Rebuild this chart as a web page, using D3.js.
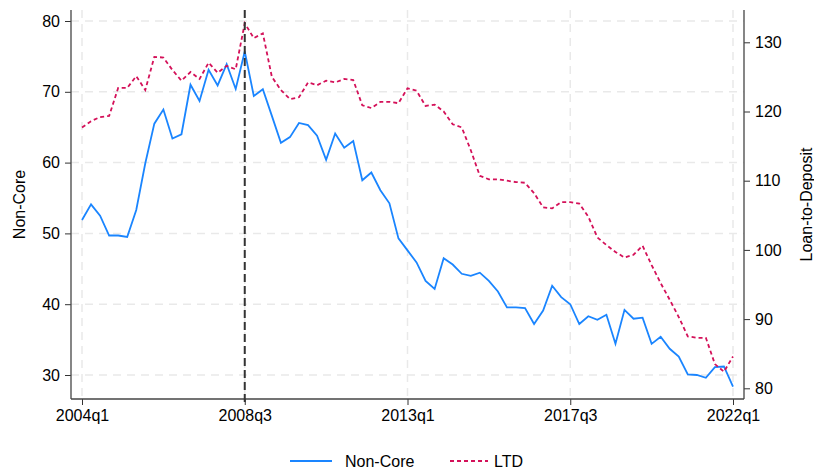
<!DOCTYPE html>
<html>
<head>
<meta charset="utf-8">
<script src="https://cdn.jsdelivr.net/npm/d3@7"></script>
<style>
  body { margin: 0; background: #fff; }
  svg { font-family: "Liberation Sans", Arial, sans-serif; }
</style>
</head>
<body>
<svg width="814" height="470"></svg>
<script>
// quarters from 2004q1 (index 0) to 2022q1 (index 72)
const startYear = 2004;
const tickQuarters = [0, 18, 36, 54, 72];
const leftTicks = [30, 40, 50, 60, 70, 80];
const rightTicks = [80, 90, 100, 110, 120, 130];
const eventQuarter = 18; // 2008q3

const nonCore = [
  51.9, 54.1, 52.5, 49.7, 49.7, 49.5, 53.3, 59.9, 65.5, 67.5,
  63.4, 64.0, 71.0, 68.7, 73.1, 70.9, 73.9, 70.4, 75.7, 69.4,
  70.35, 66.6, 62.8, 63.6, 65.6, 65.3, 63.8, 60.4, 64.1, 62.1,
  63.05, 57.5, 58.6, 56.1, 54.25, 49.3, 47.6, 45.9, 43.3, 42.15,
  46.5, 45.6, 44.3, 44.0, 44.45, 43.3, 41.8, 39.55, 39.55, 39.45,
  37.2, 39.1, 42.6, 41.0, 40.0, 37.2, 38.3, 37.8, 38.5, 34.4,
  39.2, 37.95, 38.1, 34.4, 35.4, 33.7, 32.6, 30.1, 30.0, 29.6,
  31.1, 31.2, 28.35
];

const ltd = [
  117.7, 118.6, 119.2, 119.35, 123.4, 123.4, 125.1, 123.1, 127.9, 127.8,
  126.0, 124.45, 125.7, 124.7, 127.05, 125.6, 126.6, 126.1, 132.75, 130.6,
  131.3, 125.0, 123.1, 121.8, 122.05, 124.2, 123.8, 124.45, 124.2, 124.7,
  124.55, 120.9, 120.5, 121.4, 121.4, 121.2, 123.35, 123.0, 120.8, 121.0,
  120.0, 118.15, 117.7, 114.4, 110.7, 110.2, 110.2, 110.0, 109.8, 109.7,
  108.2, 106.15, 106.0, 106.9, 106.9, 106.7, 104.8, 101.8, 100.7, 99.7,
  98.9, 99.3, 100.6, 97.8, 95.2, 92.8, 90.3, 87.5, 87.3, 87.3,
  83.5, 82.4, 84.6
];

const quarterLabel = q => `${startYear + Math.floor(q / 4)}q${(q % 4) + 1}`;

const svg = d3.select("svg");
const plot = { left: 71, right: 744, top: 10, bottom: 399 };
const blue = "#1a85ff", red = "#d41159", grid = "#e9e9e9";
const fontSize = "16px";

const x = d3.scaleLinear().domain([0, 72]).range([82, 733]);
const yL = d3.scaleLinear().domain([30, 80]).range([375, 21]);
const yR = d3.scaleLinear().domain([80, 130]).range([388.3, 42.3]);

// gridlines
svg.append("g")
  .selectAll("line")
  .data(leftTicks)
  .join("line")
  .attr("x1", plot.left).attr("x2", plot.right)
  .attr("y1", yL).attr("y2", yL)
  .attr("stroke", grid).attr("stroke-width", 1.5)
  .attr("stroke-dasharray", "8,6");

svg.append("g")
  .selectAll("line")
  .data(tickQuarters)
  .join("line")
  .attr("x1", x).attr("x2", x)
  .attr("y1", plot.top).attr("y2", plot.bottom)
  .attr("stroke", grid).attr("stroke-width", 1.5)
  .attr("stroke-dasharray", "8,6");

// axes
const axisStyle = g => {
  g.select(".domain").remove();
  g.selectAll(".tick line").attr("stroke", "#333").attr("stroke-width", 1);
  g.selectAll(".tick text").attr("fill", "#000").style("font-size", fontSize)
    .style("font-family", "'Liberation Sans', Arial, sans-serif");
};

svg.append("g")
  .attr("transform", `translate(${plot.left},0)`)
  .call(d3.axisLeft(yL).tickValues(leftTicks).tickSize(6).tickPadding(5))
  .call(axisStyle);

svg.append("g")
  .attr("transform", `translate(${plot.right},0)`)
  .call(d3.axisRight(yR).tickValues(rightTicks).tickSize(6).tickPadding(5))
  .call(axisStyle);

svg.append("g")
  .attr("transform", `translate(0,${plot.bottom})`)
  .call(d3.axisBottom(x).tickValues(tickQuarters).tickFormat(quarterLabel).tickSize(6).tickPadding(5))
  .call(axisStyle);

// frame lines (left, right, bottom)
const frame = svg.append("g").attr("stroke", "#444").attr("stroke-width", 1.3);
frame.append("line").attr("x1", plot.left).attr("x2", plot.left).attr("y1", plot.top).attr("y2", plot.bottom);
frame.append("line").attr("x1", plot.right).attr("x2", plot.right).attr("y1", plot.top).attr("y2", plot.bottom);
frame.append("line").attr("x1", plot.left).attr("x2", plot.right).attr("y1", plot.bottom).attr("y2", plot.bottom);

// series
const lineL = d3.line().x((d, i) => x(i)).y(d => yL(d));
const lineR = d3.line().x((d, i) => x(i)).y(d => yR(d));

svg.append("path")
  .datum(nonCore)
  .attr("d", lineL)
  .attr("fill", "none")
  .attr("stroke", blue)
  .attr("stroke-width", 1.8);

svg.append("path")
  .datum(ltd)
  .attr("d", lineR)
  .attr("fill", "none")
  .attr("stroke", red)
  .attr("stroke-width", 1.8)
  .attr("stroke-dasharray", "4,3");

// event line 2008q3
svg.append("line")
  .attr("x1", x(eventQuarter)).attr("x2", x(eventQuarter))
  .attr("y1", plot.top).attr("y2", plot.bottom + 6)
  .attr("stroke", "#333").attr("stroke-width", 2)
  .attr("stroke-dasharray", "8,4");

// axis titles
svg.append("text")
  .attr("transform", `translate(25,${(plot.top + plot.bottom) / 2}) rotate(-90)`)
  .attr("text-anchor", "middle")
  .style("font-size", fontSize)
  .text("Non-Core");

svg.append("text")
  .attr("transform", `translate(812,${(plot.top + plot.bottom) / 2}) rotate(-90)`)
  .attr("text-anchor", "middle")
  .style("font-size", fontSize)
  .text("Loan-to-Deposit");

// legend
const legend = svg.append("g").attr("transform", "translate(0,461)");
legend.append("line").attr("x1", 290).attr("x2", 332).attr("y1", 0).attr("y2", 0)
  .attr("stroke", blue).attr("stroke-width", 1.8);
legend.append("text").attr("x", 345).attr("y", 6).style("font-size", fontSize).text("Non-Core");
legend.append("line").attr("x1", 450).attr("x2", 488).attr("y1", 0).attr("y2", 0)
  .attr("stroke", red).attr("stroke-width", 1.8).attr("stroke-dasharray", "4,3");
legend.append("text").attr("x", 494).attr("y", 6).style("font-size", fontSize).text("LTD");
</script>
</body>
</html>
